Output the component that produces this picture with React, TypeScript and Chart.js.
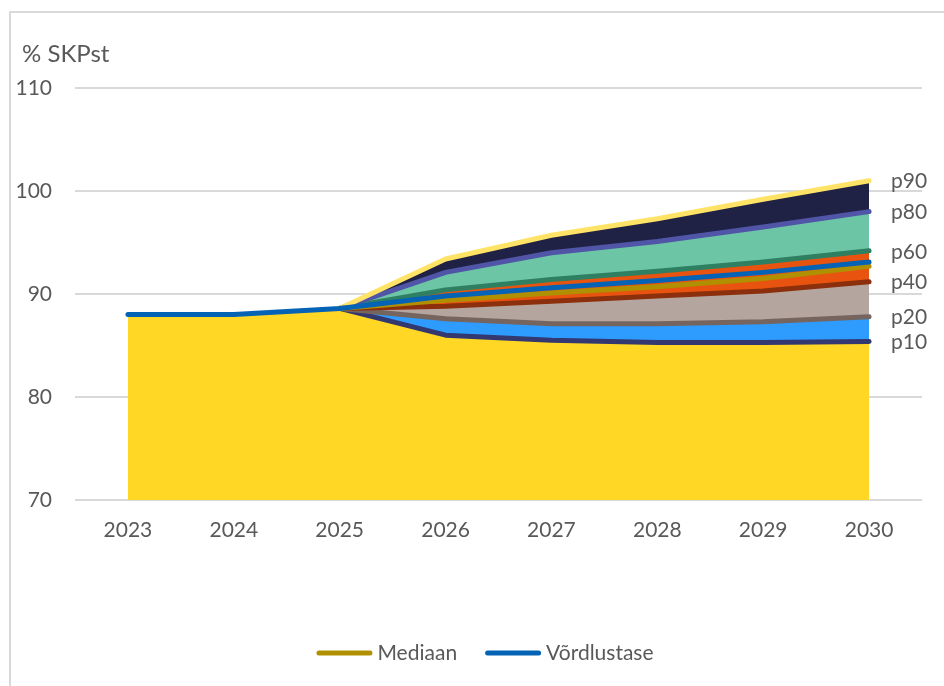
import React, { useEffect, useRef } from 'react';
import { Chart, registerables } from 'chart.js';

Chart.register(...registerables);

const years = ['2023', '2024', '2025', '2026', '2027', '2028', '2029', '2030'];
const history = [88.0, 88.0];
const p10 = [null, null, 88.6, 86.0, 85.5, 85.3, 85.3, 85.4];
const p20 = [null, null, 88.6, 87.6, 87.1, 87.1, 87.3, 87.8];
const p40 = [null, null, 88.6, 88.8, 89.3, 89.8, 90.3, 91.2];
const p60 = [null, null, 88.6, 90.4, 91.4, 92.2, 93.1, 94.2];
const p80 = [null, null, 88.6, 92.1, 94.0, 95.1, 96.5, 98.0];
const p90 = [null, null, 88.6, 93.4, 95.7, 97.3, 99.2, 101.0];
const mediaan = [null, null, 88.6, 89.4, 90.1, 90.7, 91.5, 92.7];
const vordlustase = [88.0, 88.0, 88.6, 89.8, 90.6, 91.3, 92.1, 93.1];
const yMin = 70;
const yMax = 110;
const yStep = 10;
const yTitle = '% SKPst';

const FONT = 'Lato, "Open Sans", sans-serif';
const TEXT = '#595959';

const decor = {
  id: 'decor',
  afterDraw(chart: any) {
    const ctx = chart.ctx;
    ctx.save();
    ctx.fillStyle = TEXT;
    ctx.textBaseline = 'middle';
    // y-axis title
    ctx.font = `24px ${FONT}`;
    ctx.textAlign = 'left';
    ctx.fillText(yTitle, 22, 54);
    // percentile labels at line ends
    ctx.font = `21px ${FONT}`;
    for (let i = 1; i <= 6; i++) {
      const meta = chart.getDatasetMeta(i);
      const pts = meta.data;
      const last = pts[pts.length - 1];
      ctx.fillText(chart.data.datasets[i].label, last.x + 22, last.y + 1);
    }
    // legend
    const items = [7, 8].map((i) => ({
      text: chart.data.datasets[i].label,
      color: chart.data.datasets[i].borderColor,
    }));
    const lineW = 56;
    const gapT = 5;
    const gapI = 28;
    const widths = items.map((it) => lineW + gapT + ctx.measureText(it.text).width);
    const total = widths.reduce((a, b) => a + b, 0) + gapI * (items.length - 1);
    let x = 485 - total / 2;
    const y = 653;
    items.forEach((it, k) => {
      ctx.strokeStyle = it.color;
      ctx.lineWidth = 5;
      ctx.lineCap = 'round';
      ctx.beginPath();
      ctx.moveTo(x + 2.5, y);
      ctx.lineTo(x + lineW - 2.5, y);
      ctx.stroke();
      ctx.fillStyle = TEXT;
      ctx.fillText(it.text, x + lineW + gapT, y);
      x += widths[k] + gapI;
    });
    ctx.restore();
  },
};

export default function App() {
  const ref = useRef<HTMLCanvasElement>(null);
  useEffect(() => {
    const base = p10.map((v, i) => (v ?? history[i]) as number);
    const line = (label: string, data: any[], color: string, extra: any = {}) => ({
      label,
      data,
      borderColor: color,
      borderWidth: 5,
      pointRadius: 0,
      pointHoverRadius: 0,
      tension: 0,
      fill: false,
      borderCapStyle: 'round',
      borderJoinStyle: 'round',
      ...extra,
    });
    const chart = new Chart(ref.current as HTMLCanvasElement, {
      type: 'line',
      data: {
        labels: years,
        datasets: [
          { label: 'base', data: base, borderWidth: 0, pointRadius: 0, fill: 'start', backgroundColor: '#FFD724', order: 8 },
          line('p10', p10, '#333870', { order: 7 }),
          line('p20', p20, '#76655E', { fill: 1, backgroundColor: '#2E9BFF', order: 6 }),
          line('p40', p40, '#8B2F0D', { fill: 2, backgroundColor: '#B4A59E', order: 5 }),
          line('p60', p60, '#2F8062', { fill: 3, backgroundColor: '#E8540F', order: 4 }),
          line('p80', p80, '#5055A8', { fill: 4, backgroundColor: '#6CC6A6', order: 3 }),
          line('p90', p90, '#FFE366', { fill: 5, backgroundColor: '#1F2244', order: 2 }),
          line('Mediaan', mediaan, '#B08F00', { order: 1 }),
          line('Võrdlustase', vordlustase, '#0563B5', { order: 0 }),
        ] as any,
      },
      options: {
        animation: false,
        responsive: false,
        maintainAspectRatio: false,
        layout: { padding: { top: 88, right: 22, bottom: 136, left: 0 } },
        plugins: {
          legend: { display: false },
          tooltip: { enabled: false },
          filler: { drawTime: 'beforeDatasetsDraw', propagate: false },
        } as any,
        scales: {
          x: {
            offset: true,
            grid: { display: false, drawTicks: false },
            border: { display: false },
            ticks: { color: TEXT, font: { family: FONT, size: 21 }, padding: 18, maxRotation: 0 },
            afterFit: (s: any) => {
              s.height = 50;
            },
          },
          y: {
            min: yMin,
            max: yMax,
            grid: { color: '#d9d9d9', lineWidth: 2, drawTicks: false },
            border: { display: false },
            ticks: { stepSize: yStep, color: TEXT, font: { family: FONT, size: 21 }, padding: 23 },
            afterFit: (s: any) => {
              s.width = 75;
            },
          },
        },
      } as any,
      plugins: [decor],
    });
    return () => chart.destroy();
  }, []);
  return (
    <div style={{ position: 'fixed', left: 0, top: 0, width: 944, height: 686, background: '#fff', overflow: 'hidden' }}>
      <div
        style={{
          position: 'absolute',
          left: 9,
          top: 11,
          right: -10,
          bottom: -10,
          borderLeft: '2px solid #d9d9d9',
          borderTop: '2px solid #d9d9d9',
        }}
      />
      <canvas ref={ref} width={944} height={686} style={{ position: 'absolute', left: 0, top: 0, width: 944, height: 686 }} />
    </div>
  );
}
